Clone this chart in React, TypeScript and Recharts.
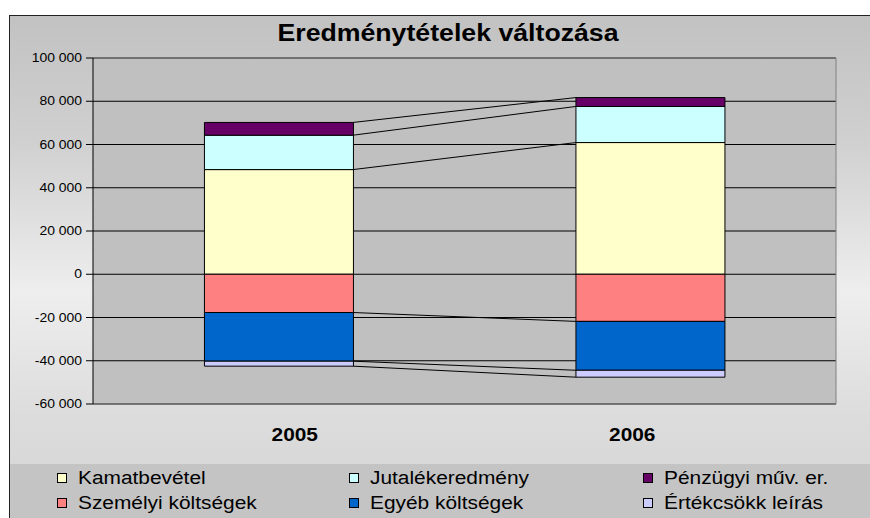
import React from 'react';
import {
  ComposedChart,
  Bar,
  XAxis,
  YAxis,
  CartesianGrid,
  ReferenceLine,
} from 'recharts';

// ---- data ----
const categories = ['2005', '2006'];
const kamatbevetel = [48400, 60900];
const jutalekeredmeny = [15900, 16700];
const penzugyiMuv = [5900, 4100];
const szemelyiKoltsegek = [-17700, -21800];
const egyebKoltsegek = [-22500, -22600];
const ertekcsokkLeiras = [-2300, -3200];
const yTicks = [-60000, -40000, -20000, 0, 20000, 40000, 60000, 80000, 100000];
const chartTitle = 'Eredménytételek változása';

const series = [
  { key: 'kamat', name: 'Kamatbevétel', values: kamatbevetel, color: '#FFFFCC' },
  { key: 'jutalek', name: 'Jutalékeredmény', values: jutalekeredmeny, color: '#CCFFFF' },
  { key: 'penzugyi', name: 'Pénzügyi műv. er.', values: penzugyiMuv, color: '#660066' },
  { key: 'szemelyi', name: 'Személyi költségek', values: szemelyiKoltsegek, color: '#FF8080' },
  { key: 'egyeb', name: 'Egyéb költségek', values: egyebKoltsegek, color: '#0066CC' },
  { key: 'ertekcsokk', name: 'Értékcsökk leírás', values: ertekcsokkLeiras, color: '#CCCCFF' },
];

const data = categories.map((c, i) => {
  const row: Record<string, any> = { year: c, pos: i + 0.5 };
  series.forEach((s) => {
    row[s.key] = s.values[i];
  });
  return row;
});

// cumulative stack boundaries (positive and negative separately) per category
const boundaries = series.map((s, si) =>
  categories.map((_, ci) => {
    const sign = s.values[ci] >= 0 ? 1 : -1;
    let sum = 0;
    for (let k = 0; k <= si; k++) {
      const v = series[k].values[ci];
      if ((v >= 0 ? 1 : -1) === sign) sum += v;
    }
    return sum;
  })
);

// ---- style ----
const FONT = '"Liberation Sans", Arial, Helvetica, sans-serif';
const STRETCH = 1.16;
const GAP = 0.3; // bar category gap fraction per side
const xLabelShift = [16, -18];

const W = 870;
const H = 518;
const margin = { top: 58, right: 34, left: 0, bottom: 74 };

const fmt = (v: number) => {
  const s = Math.abs(v).toString().replace(/\B(?=(\d{3})+(?!\d))/g, ' ');
  return (v < 0 ? '-' : '') + s;
};

const YTick = (props: any) => {
  const { x, y, payload } = props;
  return (
    <g transform={`translate(${x},${y})`}>
      <text
        transform={`scale(${STRETCH},1)`}
        textAnchor="end"
        dominantBaseline="central"
        fontSize={12}
        fontFamily={FONT}
        fill="#000"
      >
        {fmt(payload.value)}
      </text>
    </g>
  );
};

const XTick = (props: any) => {
  const { x, y, payload, index } = props;
  const dx = xLabelShift[index] ?? 0;
  return (
    <g transform={`translate(${x + dx},${y + 31})`}>
      <text
        transform={`scale(${STRETCH},1)`}
        textAnchor="middle"
        dominantBaseline="central"
        fontSize={18}
        fontWeight="bold"
        fontFamily={FONT}
        fill="#000"
      >
        {payload.value}
      </text>
    </g>
  );
};

const legendCols = [57, 349, 643];
const legendRows = [478, 503];

export default function App() {
  const n = categories.length;
  return (
    <div
      style={{
        position: 'absolute',
        left: 0,
        top: 0,
        width: W,
        height: H,
        overflow: 'hidden',
        background: '#fff',
        fontFamily: FONT,
      }}
    >
      {/* chart area background */}
      <div
        style={{
          position: 'absolute',
          left: 9,
          top: 15,
          width: W - 9,
          height: H - 15,
          boxSizing: 'border-box',
          borderLeft: '1px solid #222',
          borderTop: '1px solid #222',
          background:
            'linear-gradient(to bottom, #C2C2C2 0%, #D0D0D0 25%, #EEEEEE 55%, #DCDCDC 80%, #D4D4D4 100%)',
        }}
      />
      {/* legend band */}
      <div
        style={{
          position: 'absolute',
          left: 10,
          top: 464,
          width: W - 10,
          height: H - 464,
          background: '#C4C4C4',
        }}
      />
      {/* title */}
      <div
        style={{
          position: 'absolute',
          left: 447.5,
          top: 22,
          fontSize: 23,
          lineHeight: '23px',
          fontWeight: 'bold',
          whiteSpace: 'nowrap',
          color: '#000',
          transform: `translateX(-50%) scaleX(${STRETCH})`,
        }}
      >
        {chartTitle}
      </div>

      <div style={{ position: 'absolute', left: 0, top: 0 }}>
        <ComposedChart
          width={W}
          height={H}
          data={data}
          margin={margin}
          stackOffset="sign"
          barCategoryGap={`${GAP * 100}%`}
        >
          <CartesianGrid vertical={false} stroke="#000" fill="#C0C0C0" fillOpacity={1} />
          <XAxis
            dataKey="year"
            axisLine={false}
            tickLine={false}
            tickSize={0}
            tickMargin={0}
            height={40}
            tick={<XTick />}
            interval={0}
          />
          <XAxis
            xAxisId={1}
            dataKey="pos"
            type="number"
            domain={[0, n]}
            hide
            allowDataOverflow
          />
          <YAxis
            width={93}
            domain={[yTicks[0], yTicks[yTicks.length - 1]]}
            ticks={yTicks}
            interval={0}
            axisLine={{ stroke: '#000' }}
            tickLine={{ stroke: '#000' }}
            tickSize={7}
            tickMargin={4}
            tick={<YTick />}
            allowDataOverflow
          />
          {series.map((s) => (
            <Bar
              key={s.key}
              dataKey={s.key}
              name={s.name}
              stackId="a"
              fill={s.color}
              stroke="#000"
              strokeWidth={1}
              isAnimationActive={false}
            />
          ))}
          {/* plot border (top, bottom, right) */}
          <ReferenceLine y={yTicks[yTicks.length - 1]} stroke="#808080" ifOverflow="visible" />
          <ReferenceLine y={yTicks[0]} stroke="#808080" ifOverflow="visible" />
          <ReferenceLine xAxisId={1} x={n} stroke="#808080" ifOverflow="visible" />
          {/* series lines */}
          {boundaries.map((b, si) =>
            b.slice(0, -1).map((v, ci) => (
              <ReferenceLine
                key={`sl-${si}-${ci}`}
                xAxisId={1}
                segment={[
                  { x: ci + 1 - GAP, y: v },
                  { x: ci + 1 + GAP, y: b[ci + 1] },
                ]}
                stroke="#000"
                strokeWidth={1}
                ifOverflow="visible"
              />
            ))
          )}
        </ComposedChart>
      </div>

      {/* legend */}
      {series.map((s, i) => {
        const col = i % 3;
        const row = Math.floor(i / 3);
        const x = legendCols[col];
        const y = legendRows[row];
        return (
          <React.Fragment key={s.key}>
            <div
              style={{
                position: 'absolute',
                left: x,
                top: y - 5,
                width: 10,
                height: 10,
                boxSizing: 'border-box',
                border: '1px solid #000',
                background: s.color,
              }}
            />
            <div
              style={{
                position: 'absolute',
                left: x + 21,
                top: y - 9,
                fontSize: 18,
                lineHeight: '18px',
                whiteSpace: 'nowrap',
                color: '#000',
                transform: `scaleX(${STRETCH})`,
                transformOrigin: 'left center',
              }}
            >
              {s.name}
            </div>
          </React.Fragment>
        );
      })}
    </div>
  );
}
